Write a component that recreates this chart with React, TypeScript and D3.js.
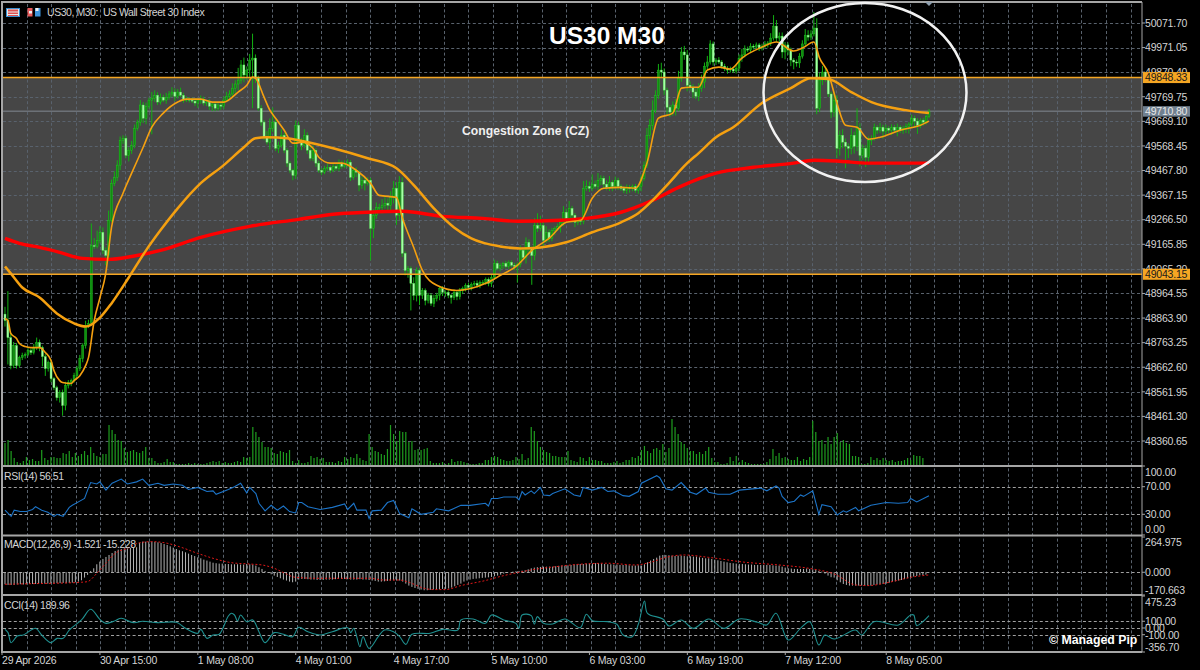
import React from "react";
import * as d3 from "d3";

const priceTicks = [50071.7, 49971.05, 49870.4, 49769.75, 49669.1, 49568.45, 49467.8, 49367.15, 49266.5, 49165.85, 49065.2, 48964.55, 48863.9, 48763.25, 48662.6, 48561.95, 48461.3, 48360.65];
const zoneTop = 49848.33;
const zoneBottom = 49043.15;
const lastPrice = 49710.8;
const firstOpen = 48880;

const closes = [
48854,48784,48669,48751,48669,48702,48710,48715,48731,48723,48743,48764,48743,48706,48657,48682,48616,48579,48538,48559,
48506,48588,48600,48608,48628,48657,48698,48751,48833,48842,49161,49157,49182,49215,49141,49120,49264,49416,49440,49490,
49592,49600,49530,49551,49571,49641,49666,49736,49682,49731,49756,49764,49776,49748,49768,49756,49768,49781,49789,49772,
49789,49776,49760,49760,49756,49752,49744,49756,49760,49744,49748,49731,49740,49723,49736,49731,49756,49772,49781,49805,
49822,49838,49900,49859,49879,49920,49928,49846,49723,49666,49604,49584,49641,49666,49559,49571,49612,49551,49498,49469,
49448,49653,49592,49571,49612,49551,49518,49551,49498,49469,49461,49477,49481,49469,49485,49477,49498,49485,49490,49502,
49440,49469,49461,49408,49428,49416,49428,49231,49285,49317,49317,49326,49334,49326,49358,49395,49285,49420,49129,49059,
49067,49006,48957,49059,48957,48977,48936,48957,48924,48944,48957,48985,48969,48969,48957,48948,48969,48952,48977,48985,
48998,48989,49002,49006,48998,49010,49010,49022,49006,49030,49088,49067,49080,49088,49075,49092,49080,49075,49084,49141,
49112,49174,49149,49120,49243,49231,49243,49182,49215,49190,49223,49231,49239,49256,49297,49272,49313,49285,49256,49264,
49260,49395,49403,49395,49412,49403,49428,49436,49412,49399,49420,49403,49428,49403,49395,49387,49399,49395,49403,49387,
49403,49436,49490,49612,49653,49715,49776,49879,49871,49797,49727,49707,49736,49723,49846,49953,49941,49817,49809,49789,
49772,49805,49830,49895,49912,49986,49912,49920,49912,49895,49887,49879,49883,49875,49887,49928,49941,49965,49961,49977,
49973,49982,49969,49977,49986,49990,50010,50059,50010,50018,49953,49982,49961,49920,49912,49908,49936,49986,50022,50014,
50027,50051,49723,49838,49871,49846,49781,49707,49756,49559,49612,49584,49567,49559,49612,49567,49641,49530,49559,49522,
49592,49600,49645,49633,49645,49629,49641,49633,49645,49633,49645,49633,49641,49649,49658,49682,49670,49653,49674,49666,
49690,49710];

const upperWicks = [
30,120,20,15,10,8,12,8,10,8,15,20,12,8,10,8,12,6,8,10,
12,15,10,8,12,10,15,10,20,15,90,30,40,25,20,12,40,15,25,20,
15,12,10,12,18,15,10,20,12,15,10,25,20,12,15,10,18,12,20,15,
12,18,10,12,8,10,12,8,15,10,8,12,8,10,12,8,15,18,15,20,
15,50,20,30,15,25,100,15,10,12,8,25,40,60,10,15,25,10,8,8,
6,20,15,10,25,12,15,20,8,10,8,10,15,8,12,8,15,10,20,12,
8,10,12,8,15,10,12,10,25,20,15,25,30,20,25,30,25,25,20,8,
10,8,25,12,8,10,8,10,8,15,10,8,10,8,10,6,12,8,10,8,
8,10,8,10,12,8,10,8,8,12,15,10,8,6,10,8,8,10,8,20,
10,20,12,8,30,50,40,15,25,12,10,8,12,15,25,15,30,10,8,10,
8,30,25,20,40,15,30,12,10,15,25,8,15,10,8,10,12,10,8,10,
8,15,15,30,25,40,20,25,30,15,10,10,15,25,30,20,25,20,15,12,
15,20,30,15,25,15,10,8,12,8,10,8,10,6,12,15,25,15,10,12,
8,10,8,10,12,8,20,45,25,15,15,12,10,10,8,10,12,15,25,20,
15,66,40,30,25,20,20,10,35,20,20,25,15,12,30,15,82,20,15,12,
15,12,15,8,18,10,15,8,12,10,15,8,10,12,8,15,10,12,8,10,
8,10];

const lowerWicks = [
25,110,15,10,12,8,10,12,8,10,8,10,15,40,30,12,15,10,12,20,
42,20,12,15,8,12,10,15,12,10,0,10,8,12,15,40,10,8,12,15,
20,15,12,25,15,12,10,15,20,25,10,140,15,12,10,8,15,10,12,20,
10,8,15,12,10,8,12,20,15,10,12,15,20,12,10,15,12,8,10,15,
20,25,15,30,20,40,197,20,10,15,12,10,30,15,12,20,10,12,15,12,
20,15,10,20,12,15,10,12,15,10,12,8,10,12,8,10,12,10,8,10,
15,10,20,25,15,30,10,131,40,15,20,25,15,20,30,25,40,20,15,20,
30,111,20,25,40,15,20,12,10,15,12,20,15,18,12,25,10,15,12,15,
12,10,12,8,10,12,8,10,12,15,10,8,12,15,8,10,8,15,66,12,
10,25,15,120,20,15,12,25,10,15,12,20,10,25,15,10,12,30,20,12,
15,12,10,15,12,10,15,20,18,12,15,20,12,15,10,12,15,18,12,10,
15,20,10,12,15,20,12,15,25,20,30,20,15,30,12,15,20,25,15,25,
12,20,15,25,12,10,15,12,8,10,12,15,10,8,10,12,15,10,8,12,
10,8,12,10,8,15,12,10,15,20,25,30,20,25,30,15,20,10,12,15,
12,10,25,15,20,15,12,25,20,40,30,25,90,40,25,30,20,45,20,40,
25,20,10,15,12,30,15,12,20,10,25,12,15,20,30,15,25,35,12,15,
10,8];

const fastMA = [[0,48862],[1,48854],[2,48801],[4,48780],[5,48760],[7,48747],[9,48743],[12,48743],[14,48723],[16,48690],[17,48649],[19,48608],[20,48600],[23,48596],[24,48608],[26,48628],[28,48669],[29,48702],[31,48854],[33,48948],[35,49047],[37,49235],[41,49375],[44,49457],[48,49563],[51,49645],[55,49703],[60,49748],[63,49760],[68,49760],[72,49748],[76,49748],[81,49789],[84,49817],[86,49850],[87,49846],[90,49768],[92,49715],[94,49682],[97,49633],[100,49580],[101,49580],[103,49584],[107,49559],[109,49522],[113,49498],[117,49498],[122,49469],[127,49416],[130,49366],[136,49358],[138,49276],[142,49153],[145,49059],[150,48998],[157,48977],[167,49006],[172,49038],[178,49080],[183,49141],[189,49190],[195,49256],[200,49264],[204,49354],[208,49395],[214,49399],[219,49395],[223,49498],[227,49682],[232,49703],[235,49805],[238,49809],[241,49809],[244,49879],[248,49891],[252,49883],[256,49928],[263,49973],[268,49994],[274,49957],[277,49969],[281,49994],[283,49928],[286,49867],[289,49744],[292,49653],[296,49645],[300,49596],[304,49604],[311,49633],[318,49653],[321,49670]];

const slowMA = [[0,49075],[2,49047],[6,48989],[12,48948],[18,48883],[24,48842],[28,48829],[33,48866],[37,48924],[43,49030],[49,49141],[54,49223],[60,49313],[68,49416],[76,49490],[83,49563],[87,49600],[91,49604],[98,49600],[102,49592],[114,49559],[126,49518],[136,49477],[142,49408],[149,49313],[156,49235],[162,49190],[172,49157],[179,49149],[186,49153],[195,49174],[204,49215],[214,49256],[220,49293],[225,49346],[230,49408],[237,49498],[241,49539],[247,49604],[253,49645],[263,49744],[273,49805],[280,49846],[286,49842],[294,49789],[301,49748],[313,49715],[321,49703]];

const longMA = [[0,49190],[5,49170],[12,49153],[19,49133],[27,49108],[36,49104],[44,49116],[54,49141],[68,49194],[85,49239],[102,49268],[114,49289],[126,49297],[138,49301],[152,49280],[166,49272],[178,49260],[193,49264],[202,49272],[214,49297],[225,49346],[234,49399],[247,49457],[260,49481],[274,49498],[281,49510],[290,49506],[300,49498],[311,49498],[321,49498]];

const volumes = [
22,25,14,7,3,2,4,8,5,6,4,4,15,7,5,8,8,7,7,12,
11,14,8,12,9,11,14,10,18,12,9,8,11,11,40,35,31,25,24,17,
13,14,15,13,12,14,18,7,7,4,2,2,3,6,3,3,1,1,1,1,
2,1,2,1,1,1,2,3,4,3,4,2,3,2,2,3,4,3,
8,7,8,38,33,28,23,18,18,17,12,11,14,13,12,15,4,2,5,2,
2,3,9,7,8,6,7,3,3,3,2,4,3,8,6,8,7,11,7,5,
4,31,18,14,13,11,10,16,40,31,24,34,33,33,23,24,15,16,15,16,
17,4,2,2,2,3,1,2,6,3,4,4,3,2,
1,1,1,2,2,5,5,8,9,8,6,5,4,4,5,8,6,11,5,7,
38,34,24,18,15,13,12,9,9,8,8,8,14,5,4,3,8,7,4,8,
5,5,4,4,2,2,2,3,4,2,3,5,5,8,7,9,15,19,14,12,
16,17,15,21,13,17,46,38,31,23,21,17,14,14,11,13,11,14,18,7,
3,3,1,1,2,8,4,9,3,5,3,2,1,1,1,1,1,3,6,16,
9,12,7,8,6,5,5,8,4,6,5,8,44,33,24,25,21,28,21,28,
32,23,25,22,21,9,9,8,1,1,2,8,5,7,5,7,5,4,5,3,
4,4,5,7,5,10,9,9,7];

const rsiValues = [[0,36],[2,27],[3,36],[5,34],[7,34],[9,37],[10,41],[12,36],[14,33],[16,27],[17,30],[19,27],[21,40],[22,43],[24,48],[26,53],[27,65],[28,76],[30,74],[31,77],[33,65],[35,75],[38,81],[40,74],[43,77],[45,81],[47,72],[50,75],[52,72],[55,74],[58,72],[60,66],[63,69],[66,63],[68,64],[69,59],[73,66],[75,70],[77,75],[79,61],[80,69],[82,60],[83,46],[85,35],[87,43],[89,36],[91,42],[93,34],[95,32],[96,47],[97,47],[99,41],[103,37],[107,40],[111,45],[112,37],[114,46],[115,36],[118,36],[119,24],[120,35],[123,36],[125,47],[127,50],[129,31],[132,25],[133,38],[136,30],[140,33],[141,38],[145,35],[149,43],[152,43],[157,46],[158,42],[159,53],[161,53],[163,55],[167,55],[168,51],[169,63],[170,58],[172,64],[173,60],[175,69],[176,58],[178,57],[179,60],[183,67],[186,58],[188,56],[189,69],[192,65],[195,69],[197,63],[199,64],[202,57],[204,56],[207,63],[208,75],[213,86],[214,83],[216,67],[218,65],[221,76],[224,62],[226,59],[229,68],[230,62],[233,59],[237,59],[240,65],[247,68],[249,64],[252,71],[253,68],[254,56],[256,47],[258,49],[260,58],[261,56],[264,64],[266,30],[267,44],[270,41],[272,29],[274,35],[275,33],[278,40],[279,35],[283,43],[288,47],[292,46],[295,47],[296,53],[298,48],[302,57]];

const macdHist = [
-90,-95,-95,-95,-92,-90,-92,-90,-88,-88,-88,-85,-85,-85,-85,-82,-85,-82,-82,-80,
-82,-80,-78,-75,-70,-60,-40,-20,10,30,60,80,100,115,130,145,160,170,175,180,
180,182,185,188,222,230,230,230,230,228,225,220,212,205,195,185,175,165,158,150,
140,130,122,112,105,95,88,80,72,68,65,65,62,62,60,60,60,58,58,62,
60,58,50,38,25,10,-5,-15,-25,-35,-45,-55,-62,-70,-75,-70,-55,-50,-50,-52,
-55,-55,-58,-58,-58,-55,-55,-55,-52,-50,-50,-50,-52,-55,-55,-55,-52,-55,-55,-58,
-62,-65,-70,-70,-68,-65,-62,-60,-62,-62,-70,-85,-100,-110,-118,-125,-130,-135,-135,-132,
-130,-130,-128,-125,-125,-122,-115,-105,-95,-85,-70,-62,-55,-50,-48,-45,-42,-40,-38,-35,
-30,-25,-18,-10,-5,0,5,8,10,12,15,22,30,35,38,40,42,42,42,42,
45,48,50,50,52,55,58,60,62,62,65,65,65,68,68,65,62,60,60,58,
58,55,55,55,52,50,50,52,50,60,75,88,100,110,125,130,130,128,125,122,
125,125,122,120,120,118,118,112,108,105,105,100,95,90,85,80,75,70,68,65,
62,62,60,58,58,55,55,55,55,55,55,52,50,50,42,35,30,28,25,25,
25,25,28,25,22,20,10,5,-10,-25,-37,-40,-60,-75,-88,-95,-100,-100,-100,-100,
-100,-100,-100,-100,-95,-92,-90,-88,-85,-78,-72,-68,-62,-58,-52,-45,-38,-32,-28,-22,
-20,-18];

const macdSignal = [[0,-90],[10,-85],[20,-80],[25,-75],[27,-70],[30,-8],[33,68],[36,142],[40,180],[44,222],[48,230],[53,218],[57,192],[63,142],[68,105],[74,72],[80,62],[84,55],[88,30],[91,-2],[95,-38],[102,-45],[113,-45],[119,-45],[124,-58],[129,-58],[132,-75],[137,-120],[140,-130],[144,-130],[149,-100],[157,-62],[163,-25],[168,0],[174,25],[180,42],[185,55],[197,68],[206,55],[211,75],[216,112],[222,130],[230,112],[242,75],[253,55],[264,25],[271,-12],[278,-95],[282,-100],[289,-75],[296,-38],[302,-20]];

const cciValues = [[0,-20],[1,-69],[2,-218],[4,-119],[6,-104],[10,-5],[12,-104],[15,-218],[17,-154],[19,-154],[21,-30],[25,119],[28,278],[31,129],[33,69],[36,109],[38,144],[42,79],[45,99],[50,79],[56,84],[59,-5],[63,-79],[64,-20],[66,-154],[68,-104],[70,-94],[73,178],[74,218],[75,193],[76,104],[77,193],[79,94],[81,119],[83,-55],[85,-218],[88,-69],[91,-94],[94,-129],[96,10],[99,-55],[103,-104],[107,-55],[112,5],[113,-69],[114,-5],[116,-278],[117,-129],[119,-303],[122,-129],[124,-30],[127,-55],[129,-129],[131,-243],[133,-94],[139,-79],[143,-20],[148,-30],[149,119],[153,134],[157,69],[159,193],[163,119],[167,69],[168,-5],[169,193],[172,184],[173,55],[174,169],[176,69],[179,60],[183,134],[188,5],[190,203],[192,109],[197,94],[200,55],[202,-104],[205,-129],[207,55],[209,402],[210,218],[215,134],[217,30],[221,119],[225,-5],[230,134],[235,-5],[240,134],[246,84],[249,45],[252,218],[256,-179],[260,-5],[263,94],[266,-253],[268,-104],[271,-164],[278,-30],[280,-104],[284,94],[292,45],[296,193],[297,193],[298,35],[300,94],[302,184]];

const timeLabels = ["29 Apr 2026", "30 Apr 15:00", "1 May 08:00", "4 May 01:00", "4 May 17:00", "5 May 10:00", "6 May 03:00", "6 May 19:00", "7 May 12:00", "8 May 05:00"];
const timeBars = [0, 32, 64, 96, 128, 160, 192, 224, 256, 289];
const rsiLevels = [100, 70, 30, 0];
const macdLevels = [264.975, 0, -170.663];
const cciLevels = [475.23, 100, 0, -100, -356.7];

const W = 1200;
const H = 670;
const AXIS_X = 1142;
const FONT = "'Liberation Sans', Arial, sans-serif";
const LABEL = "#d4d4d4";
const PANEL = "#a6a6a6";
const GRID = "#59626d";
const GRID_SUB = "#a0a0a0";

const yPrice = d3.scaleLinear().domain([48360.65, 50071.7]).range([441, 23]);
const xCandle = d3.scaleLinear().domain([0, closes.length - 1]).range([5, 929]);
const xBar = d3.scaleLinear().domain([0, 302]).range([5, 929]);
const yVol = d3.scaleLinear().domain([0, 46]).range([465, 419]);
const yRsi = d3.scaleLinear().domain([0, 100]).range([535, 466]);
const yMacd = d3.scaleLinear().domain([-170.663, 264.975]).range([595, 537]);
const yCci = d3.scaleLinear().domain([-356.7, 475.23]).range([652, 596]);

const maLine = d3.line<number[]>().x((d) => xCandle(d[0])).y((d) => yPrice(d[1])).curve(d3.curveMonotoneX);
const rsiLine = d3.line<number[]>().x((d) => xBar(d[0])).y((d) => yRsi(d[1]));
const sigLine = d3.line<number[]>().x((d) => xBar(d[0])).y((d) => yMacd(d[1])).curve(d3.curveMonotoneX);
const cciLine = d3.line<number[]>().x((d) => xBar(d[0])).y((d) => yCci(d[1])).curve(d3.curveCatmullRom.alpha(0.5));

const gridXs = d3.range(26.7, AXIS_X, 24.53);
const clamp = (y: number, lo: number, hi: number) => Math.max(lo + 6, Math.min(hi - 6, y));

const Label = ({ y, children, fill = LABEL }: any) => (
  <text x={1145} y={y} dy="0.36em" fontSize={10.5} fontFamily={FONT} fill={fill} letterSpacing={-0.2}>{children}</text>
);

const AxisTick = ({ y }: any) => <line x1={AXIS_X} x2={AXIS_X + 3} y1={y} y2={y} stroke={PANEL} />;

const SMALL = { fontSize: 10.5, fontFamily: FONT, fill: LABEL, letterSpacing: -0.45 };

export default function App() {
  const zoneY1 = yPrice(zoneTop);
  const zoneY2 = yPrice(zoneBottom);
  const lastY = yPrice(lastPrice);
  return (
    <svg width={W} height={H} viewBox={`0 0 ${W} ${H}`} style={{ position: "absolute", left: 0, top: 0, background: "#000", display: "block" }}>
      <rect x={0} y={0} width={W} height={H} fill="#000" />
      <rect x={2} y={zoneY1} width={AXIS_X - 2} height={zoneY2 - zoneY1} fill="#464646" />

      <g stroke={GRID} strokeWidth={1} strokeDasharray="3 2.4">
        {gridXs.map((x) => (
          <line key={x} x1={Math.round(x) + 0.5} x2={Math.round(x) + 0.5} y1={4} y2={651} />
        ))}
        {priceTicks.map((p) => (
          <line key={p} x1={3} x2={AXIS_X} y1={Math.round(yPrice(p)) + 0.5} y2={Math.round(yPrice(p)) + 0.5} />
        ))}
      </g>
      <g stroke={GRID_SUB} strokeWidth={1} strokeDasharray="3 2.4">
        {[70, 30].map((v) => <line key={v} x1={3} x2={AXIS_X} y1={Math.round(yRsi(v)) + 0.5} y2={Math.round(yRsi(v)) + 0.5} />)}
        <line x1={3} x2={AXIS_X} y1={Math.round(yMacd(0)) + 0.5} y2={Math.round(yMacd(0)) + 0.5} />
        {[100, 0, -100].map((v) => <line key={v} x1={3} x2={AXIS_X} y1={Math.round(yCci(v)) + 0.5} y2={Math.round(yCci(v)) + 0.5} />)}
      </g>

      <line x1={2} x2={AXIS_X} y1={lastY} y2={lastY} stroke="#808890" strokeWidth={1} />

      <g>
        {closes.map((c, i) => {
          const o = i === 0 ? firstOpen : closes[i - 1];
          const top = Math.max(o, c);
          const bot = Math.min(o, c);
          const x = xCandle(i);
          const up = c >= o;
          return (
            <g key={i}>
              <line x1={x} x2={x} y1={yPrice(top + upperWicks[i])} y2={yPrice(bot - lowerWicks[i])} stroke="#12b012" strokeWidth={1} />
              <rect x={x - 1} y={yPrice(top)} width={2} height={Math.max(1, yPrice(bot) - yPrice(top))} fill={up ? "#0f8f0f" : "#a8ffa8"} stroke={up ? "#22d022" : "#50e050"} strokeWidth={0.4} />
            </g>
          );
        })}
      </g>

      <path d={maLine(longMA as any) as string} fill="none" stroke="#ff0000" strokeWidth={3.4} />
      <path d={maLine(slowMA as any) as string} fill="none" stroke="#f5a010" strokeWidth={2.5} />
      <path d={maLine(fastMA as any) as string} fill="none" stroke="#f5a010" strokeWidth={1.6} />

      <line x1={2} x2={AXIS_X} y1={zoneY1} y2={zoneY1} stroke="#f5a623" strokeWidth={1.6} />
      <line x1={2} x2={AXIS_X} y1={zoneY2} y2={zoneY2} stroke="#f5a623" strokeWidth={1.6} />

      <g stroke="#1f9e1f" strokeWidth={1.2}>
        {volumes.map((v, i) => (
          <line key={i} x1={xBar(i)} x2={xBar(i)} y1={yVol(0)} y2={yVol(v)} />
        ))}
      </g>

      <path d={rsiLine(rsiValues as any) as string} fill="none" stroke="#1c74c8" strokeWidth={1.1} />

      <g stroke="#b4b4b4" strokeWidth={1}>
        {macdHist.map((v, i) => (
          <line key={i} x1={xBar(i)} x2={xBar(i)} y1={yMacd(0)} y2={yMacd(v)} />
        ))}
      </g>
      <path d={sigLine(macdSignal as any) as string} fill="none" stroke="#e01818" strokeWidth={1} strokeDasharray="2 2" />

      <path d={cciLine(cciValues as any) as string} fill="none" stroke="#1f9090" strokeWidth={1.1} />

      <g stroke={PANEL} strokeWidth={2} fill="none">
        <line x1={1} x2={AXIS_X} y1={2} y2={2} />
        <line x1={2} x2={2} y1={1} y2={652} />
        <line x1={1} x2={AXIS_X} y1={466} y2={466} />
        <line x1={1} x2={AXIS_X} y1={535.5} y2={535.5} />
        <line x1={1} x2={AXIS_X} y1={595} y2={595} />
        <line x1={1} x2={AXIS_X} y1={652} y2={652} />
      </g>
      <line x1={AXIS_X} x2={AXIS_X} y1={2} y2={652} stroke={PANEL} strokeWidth={1} />

      {priceTicks.map((p) => (
        <g key={p}>
          <AxisTick y={yPrice(p)} />
          <Label y={yPrice(p)}>{p.toFixed(2)}</Label>
        </g>
      ))}
      <rect x={1143} y={zoneY1 - 5.5} width={47} height={11} fill="#f5a623" />
      <Label y={zoneY1} fill="#1a1a1a">{zoneTop.toFixed(2)}</Label>
      <rect x={1143} y={zoneY2 - 5.5} width={47} height={11} fill="#f5a623" />
      <Label y={zoneY2} fill="#1a1a1a">{zoneBottom.toFixed(2)}</Label>
      <rect x={1143} y={lastY - 5} width={47} height={10.5} fill="#708090" />
      <Label y={lastY} fill="#e8e8e8">{lastPrice.toFixed(2)}</Label>

      {rsiLevels.map((v) => (
        <g key={v}><AxisTick y={yRsi(v)} /><Label y={clamp(yRsi(v), 466, 535)}>{v.toFixed(2)}</Label></g>
      ))}
      {macdLevels.map((v) => (
        <g key={v}><AxisTick y={yMacd(v)} /><Label y={clamp(yMacd(v), 536, 596)}>{v.toFixed(3)}</Label></g>
      ))}
      {cciLevels.map((v) => (
        <g key={v}><AxisTick y={yCci(v)} /><Label y={clamp(yCci(v), 596, 653)}>{v.toFixed(2)}</Label></g>
      ))}

      {timeLabels.map((t, i) => {
        const x = i === 0 ? 2 : xBar(timeBars[i]) - 3;
        return (
          <g key={t}>
            <line x1={x} x2={x} y1={652} y2={655} stroke={PANEL} />
            <text x={x} y={664} fontSize={10.5} fontFamily={FONT} fill={LABEL} letterSpacing={-0.2}>{t}</text>
          </g>
        );
      })}

      <g>
        <rect x={6.5} y={8.5} width={13} height={8} fill="#e8e8e8" stroke="#3a8fd0" />
        <rect x={8} y={9.5} width={10} height={2} fill="#e05050" />
        <rect x={8} y={12.5} width={10} height={1.5} fill="#e05050" />
        <rect x={8} y={15} width={10} height={1} fill="#e05050" />
        <rect x={27.5} y={8} width={5} height={8.5} fill="#e85a5a" />
        <rect x={35} y={8} width={5.5} height={8.5} fill="#3f95dc" />
        <rect x={29} y={11} width={3} height={2.5} fill="#f0f0f0" />
        <rect x={35.5} y={8} width={3} height={3} fill="#f0f0f0" />
      </g>
      <text x={47} y={16} {...SMALL} xmlSpace="preserve">US30, M30:  US Wall Street 30 Index</text>
      <text x={4} y={480} {...SMALL}>RSI(14) 56.51</text>
      <text x={4} y={548} {...SMALL}>MACD(12,26,9) -1.521 -15.228</text>
      <text x={4} y={609} {...SMALL}>CCI(14) 189.96</text>

      <ellipse cx={865} cy={92.5} rx={101.5} ry={89.5} fill="none" stroke="#f2f2f2" strokeWidth={2.5} />
      <path d="M925 2 L933 2 L929 6 Z" fill="#8fa0b0" />
      <text x={549} y={44} fontSize={24.5} fontWeight="bold" fontFamily={FONT} fill="#ffffff">US30 M30</text>
      <text x={462} y={135} fontSize={12.2} fontWeight="bold" fontFamily={FONT} fill="#f0f0f0">Congestion Zone (CZ)</text>
      <text x={1049} y={644} fontSize={12.3} fontWeight="bold" fontFamily={FONT} fill="#ffffff">© Managed Pip</text>
    </svg>
  );
}
